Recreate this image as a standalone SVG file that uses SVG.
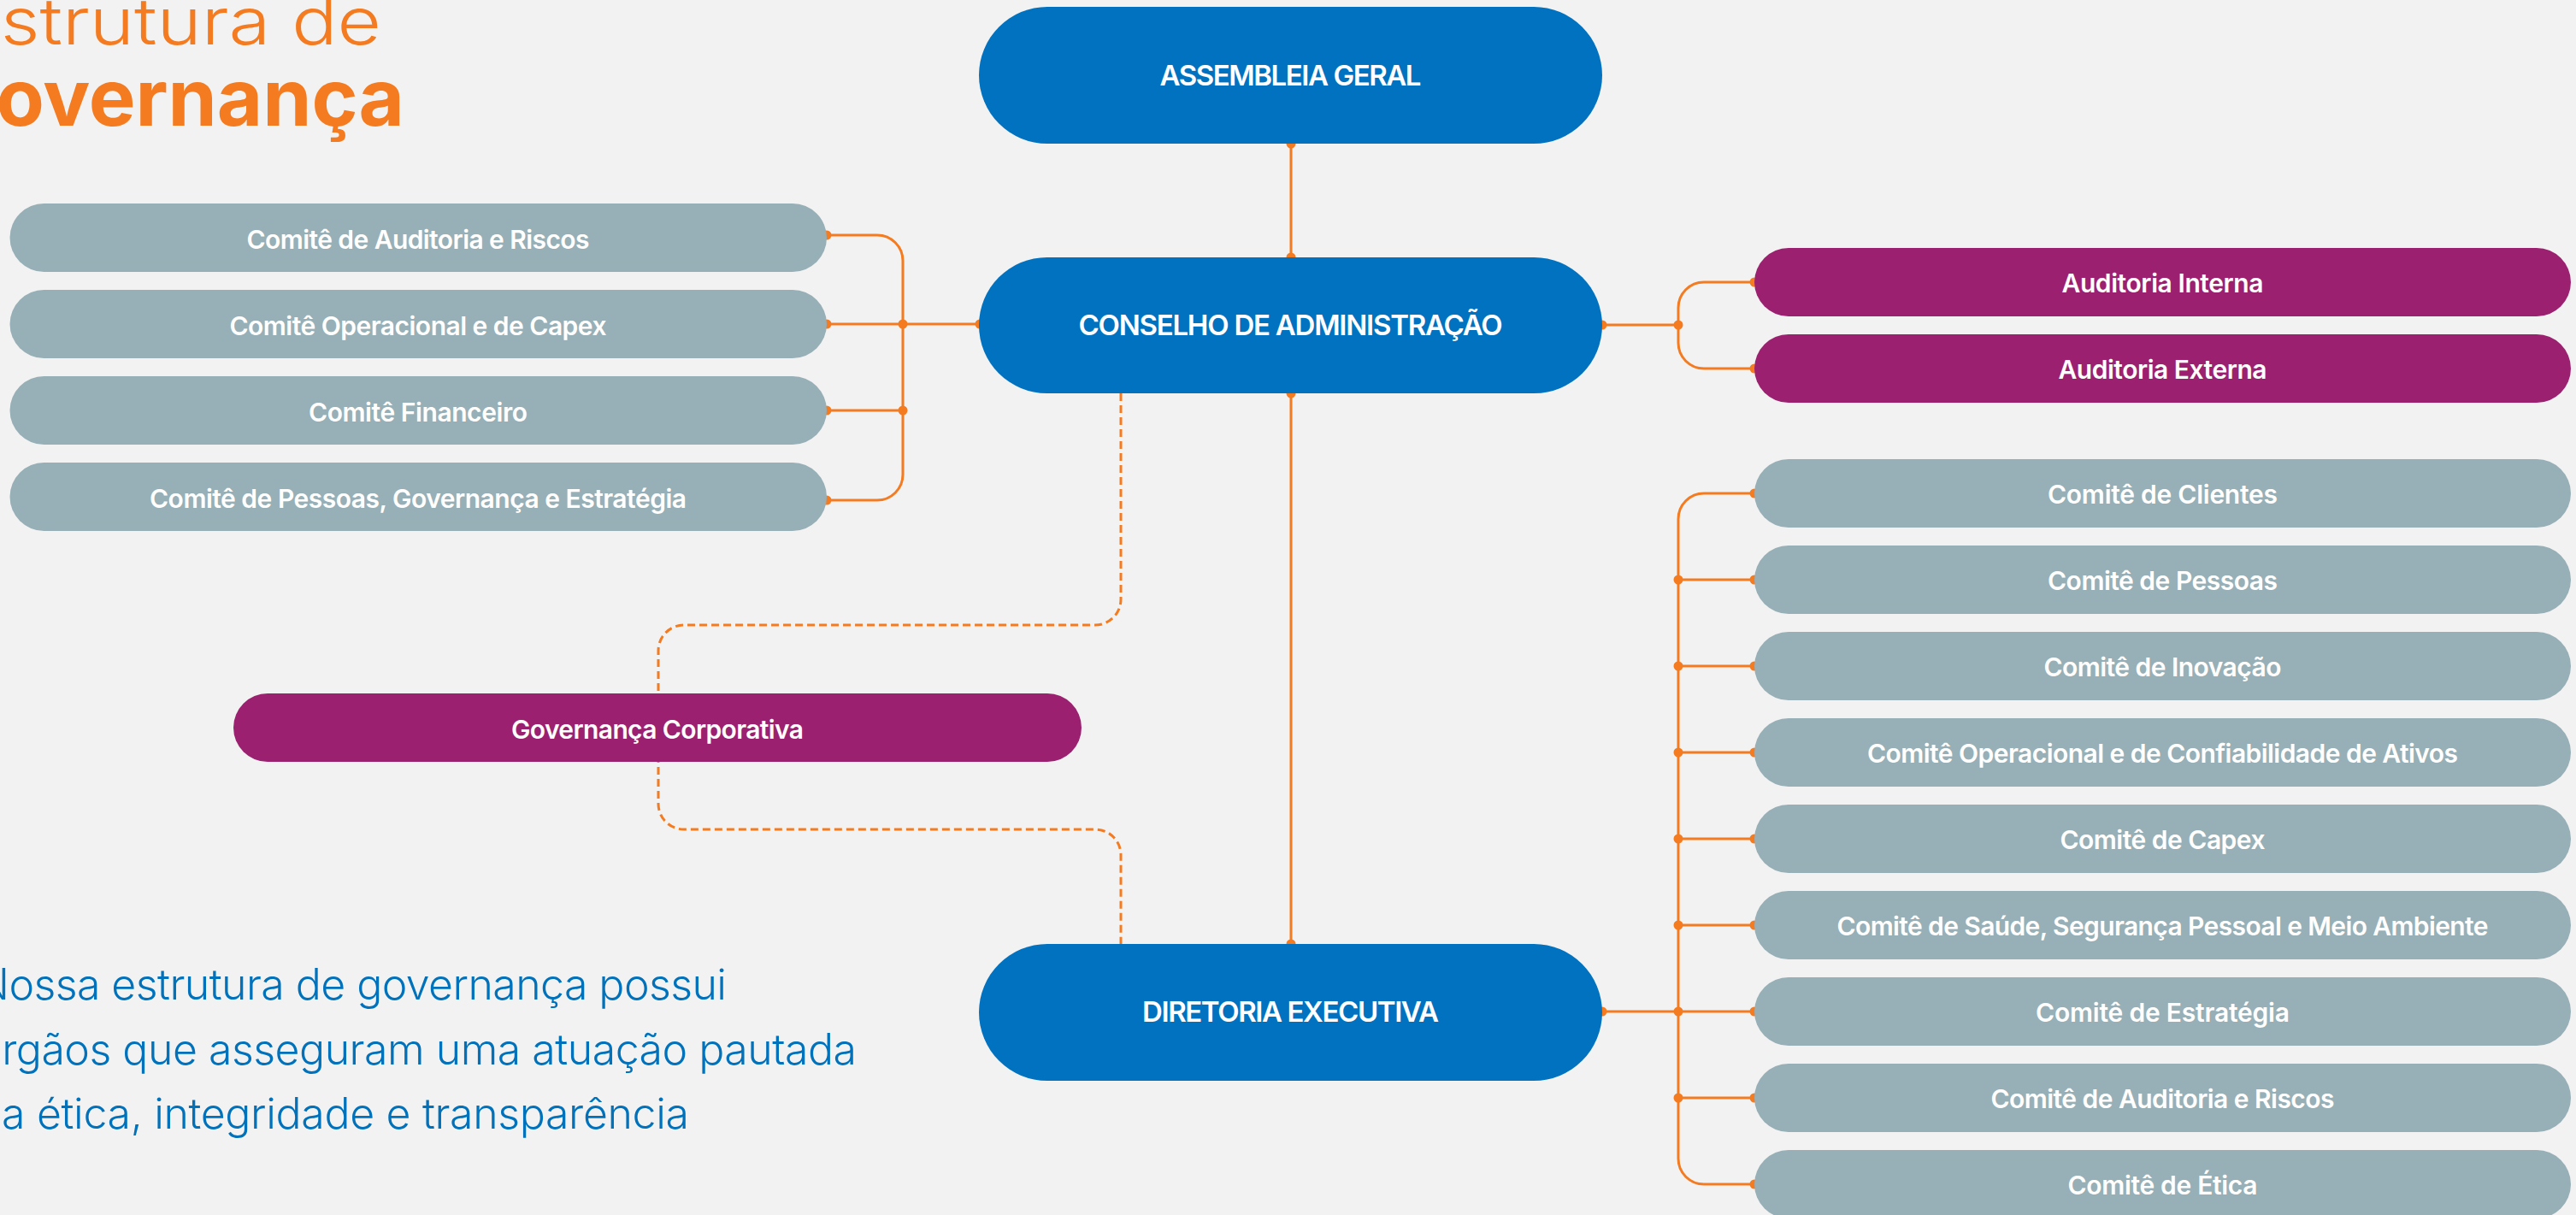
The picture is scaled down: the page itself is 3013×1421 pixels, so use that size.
<svg xmlns="http://www.w3.org/2000/svg" width="3013" height="1421" viewBox="0 0 3013 1421">
  <style>
    .main { fill: #0072C0; }
    .com { fill: #97AFB6; }
    .aud { fill: #9C2070; }
    .lbl { font-family: Inter, "Noto Sans", "Liberation Sans", sans-serif; font-weight: 600; font-size: 30px; fill: #FFFFFF; text-anchor: middle; }
    .mlbl { font-size: 33px; }
    .conn { fill: none; stroke: #F47B20; stroke-width: 3; }
    .dash { stroke-dasharray: 9 5; }
    .dot { fill: #F47B20; }
    .title { font-family: Inter, "Noto Sans", "Liberation Sans", sans-serif; fill: #F47B20; }
    .body { font-family: Inter, "Noto Sans", "Liberation Sans", sans-serif; font-weight: 300; font-size: 50px; fill: #0072BC; }
  </style>
  <rect x="0" y="0" width="3013" height="1421" fill="#F2F2F2"/>

  <g id="heading">
    <text class="title" x="-52" y="52" font-size="76" font-weight="300" textLength="498" lengthAdjust="spacingAndGlyphs">Estrutura de</text>
    <text class="title" x="473" y="147" font-size="92" font-weight="700" text-anchor="end">Governança</text>
  </g>

  <g id="intro">
    <text class="body" x="-27" y="1169" textLength="877" lengthAdjust="spacing">Nossa estrutura de governança possui</text>
    <text class="body" x="-27" y="1245" textLength="1029" lengthAdjust="spacing">órgãos que asseguram uma atuação pautada</text>
    <text class="body" x="-27" y="1320" textLength="833" lengthAdjust="spacing">na ética, integridade e transparência</text>
  </g>

  <g id="connectors">
    <path class="conn" d="M1510,168 V301"/>
    <path class="conn" d="M1510,460 V1104"/>
    <path class="conn dash" d="M1311,460 V701 A30,30 0 0 1 1281,731 H800 A30,30 0 0 0 770,761 V940 A30,30 0 0 0 800,970 H1281 A30,30 0 0 1 1311,1000 V1104"/>
    <path class="conn" d="M967,275 H1026 A30,30 0 0 1 1056,305 V555 A30,30 0 0 1 1026,585 H967"/>
    <path class="conn" d="M967,379 H1146 M967,480 H1056"/>
    <path class="conn" d="M1874,380 H1963"/>
    <path class="conn" d="M2052,330 H1993 A30,30 0 0 0 1963,360 V401 A30,30 0 0 0 1993,431 H2052"/>
    <path class="conn" d="M2052,577 H1993 A30,30 0 0 0 1963,607 V1355 A30,30 0 0 0 1993,1385 H2052"/>
    <path class="conn" d="M1963,678 H2052 M1963,779 H2052 M1963,880 H2052 M1963,981 H2052 M1963,1082 H2052 M1963,1183 H2052 M1963,1284 H2052 M1874,1183 H1963"/>
    <g class="dot">
      <circle cx="1510" cy="168" r="5.5"/>
      <circle cx="1510" cy="301" r="5.5"/>
      <circle cx="1510" cy="460" r="5.5"/>
      <circle cx="1510" cy="1104" r="5.5"/>
      <circle cx="967" cy="275" r="5.5"/>
      <circle cx="967" cy="379" r="5.5"/>
      <circle cx="967" cy="480" r="5.5"/>
      <circle cx="967" cy="585" r="5.5"/>
      <circle cx="1056" cy="379" r="5.5"/>
      <circle cx="1056" cy="480" r="5.5"/>
      <circle cx="1146" cy="379" r="5.5"/>
      <circle cx="1874" cy="380" r="5.5"/>
      <circle cx="1963" cy="380" r="5.5"/>
      <circle cx="2052" cy="330" r="5.5"/>
      <circle cx="2052" cy="431" r="5.5"/>
      <circle cx="1874" cy="1183" r="5.5"/>
      <circle cx="1963" cy="678" r="5.5"/>
      <circle cx="1963" cy="779" r="5.5"/>
      <circle cx="1963" cy="880" r="5.5"/>
      <circle cx="1963" cy="981" r="5.5"/>
      <circle cx="1963" cy="1082" r="5.5"/>
      <circle cx="1963" cy="1183" r="5.5"/>
      <circle cx="1963" cy="1284" r="5.5"/>
      <circle cx="2052" cy="577" r="5.5"/>
      <circle cx="2052" cy="678" r="5.5"/>
      <circle cx="2052" cy="779" r="5.5"/>
      <circle cx="2052" cy="880" r="5.5"/>
      <circle cx="2052" cy="981" r="5.5"/>
      <circle cx="2052" cy="1082" r="5.5"/>
      <circle cx="2052" cy="1183" r="5.5"/>
      <circle cx="2052" cy="1284" r="5.5"/>
      <circle cx="2052" cy="1385" r="5.5"/>
    </g>
  </g>

  <g id="assembleia-geral">
    <rect class="main" x="1145" y="8" width="729" height="160" rx="80"/>
    <text class="lbl mlbl" x="1509.5" y="100" textLength="306">ASSEMBLEIA GERAL</text>
  </g>
  <g id="conselho-administracao">
    <rect class="main" x="1145" y="301" width="729" height="159" rx="79.5"/>
    <text class="lbl mlbl" x="1509.5" y="392" textLength="496">CONSELHO DE ADMINISTRAÇÃO</text>
  </g>
  <g id="diretoria-executiva">
    <rect class="main" x="1145" y="1104" width="729" height="160" rx="80"/>
    <text class="lbl mlbl" x="1509.5" y="1195" textLength="347">DIRETORIA EXECUTIVA</text>
  </g>

  <g id="governanca-corporativa">
    <rect class="aud" x="273" y="811" width="992" height="80" rx="40"/>
    <text class="lbl" x="769" y="864" textLength="342">Governança Corporativa</text>
  </g>

  <g id="ca-comite-auditoria-riscos">
    <rect class="com" x="11.5" y="238" width="955.5" height="80" rx="40"/>
    <text class="lbl" x="489" y="291" textLength="401">Comitê de Auditoria e Riscos</text>
  </g>
  <g id="ca-comite-operacional-capex">
    <rect class="com" x="11.5" y="339" width="955.5" height="80" rx="40"/>
    <text class="lbl" x="489" y="392" textLength="441">Comitê Operacional e de Capex</text>
  </g>
  <g id="ca-comite-financeiro">
    <rect class="com" x="11.5" y="440" width="955.5" height="80" rx="40"/>
    <text class="lbl" x="489" y="493" textLength="256">Comitê Financeiro</text>
  </g>
  <g id="ca-comite-pessoas-governanca-estrategia">
    <rect class="com" x="11.5" y="541" width="955.5" height="80" rx="40"/>
    <text class="lbl" x="489" y="594" textLength="628">Comitê de Pessoas, Governança e Estratégia</text>
  </g>

  <g id="auditoria-interna">
    <rect class="aud" x="2052" y="290" width="955" height="80" rx="40"/>
    <text class="lbl" x="2529.5" y="342" textLength="236">Auditoria Interna</text>
  </g>
  <g id="auditoria-externa">
    <rect class="aud" x="2052" y="391" width="955" height="80" rx="40"/>
    <text class="lbl" x="2529.5" y="443" textLength="244">Auditoria Externa</text>
  </g>

  <g id="de-comite-clientes">
    <rect class="com" x="2052" y="537" width="955" height="80" rx="40"/>
    <text class="lbl" x="2529.5" y="589" textLength="269">Comitê de Clientes</text>
  </g>
  <g id="de-comite-pessoas">
    <rect class="com" x="2052" y="638" width="955" height="80" rx="40"/>
    <text class="lbl" x="2529.5" y="690" textLength="269">Comitê de Pessoas</text>
  </g>
  <g id="de-comite-inovacao">
    <rect class="com" x="2052" y="739" width="955" height="80" rx="40"/>
    <text class="lbl" x="2529.5" y="791" textLength="278">Comitê de Inovação</text>
  </g>
  <g id="de-comite-operacional-confiabilidade">
    <rect class="com" x="2052" y="840" width="955" height="80" rx="40"/>
    <text class="lbl" x="2529.5" y="892" textLength="691">Comitê Operacional e de Confiabilidade de Ativos</text>
  </g>
  <g id="de-comite-capex">
    <rect class="com" x="2052" y="941" width="955" height="80" rx="40"/>
    <text class="lbl" x="2529.5" y="993" textLength="240">Comitê de Capex</text>
  </g>
  <g id="de-comite-saude-seguranca">
    <rect class="com" x="2052" y="1042" width="955" height="80" rx="40"/>
    <text class="lbl" x="2529.5" y="1094" textLength="762">Comitê de Saúde, Segurança Pessoal e Meio Ambiente</text>
  </g>
  <g id="de-comite-estrategia">
    <rect class="com" x="2052" y="1143" width="955" height="80" rx="40"/>
    <text class="lbl" x="2529.5" y="1195" textLength="297">Comitê de Estratégia</text>
  </g>
  <g id="de-comite-auditoria-riscos">
    <rect class="com" x="2052" y="1244" width="955" height="80" rx="40"/>
    <text class="lbl" x="2529.5" y="1296" textLength="402">Comitê de Auditoria e Riscos</text>
  </g>
  <g id="de-comite-etica">
    <rect class="com" x="2052" y="1345" width="955" height="80" rx="40"/>
    <text class="lbl" x="2529.5" y="1397" textLength="222">Comitê de Ética</text>
  </g>
</svg>
